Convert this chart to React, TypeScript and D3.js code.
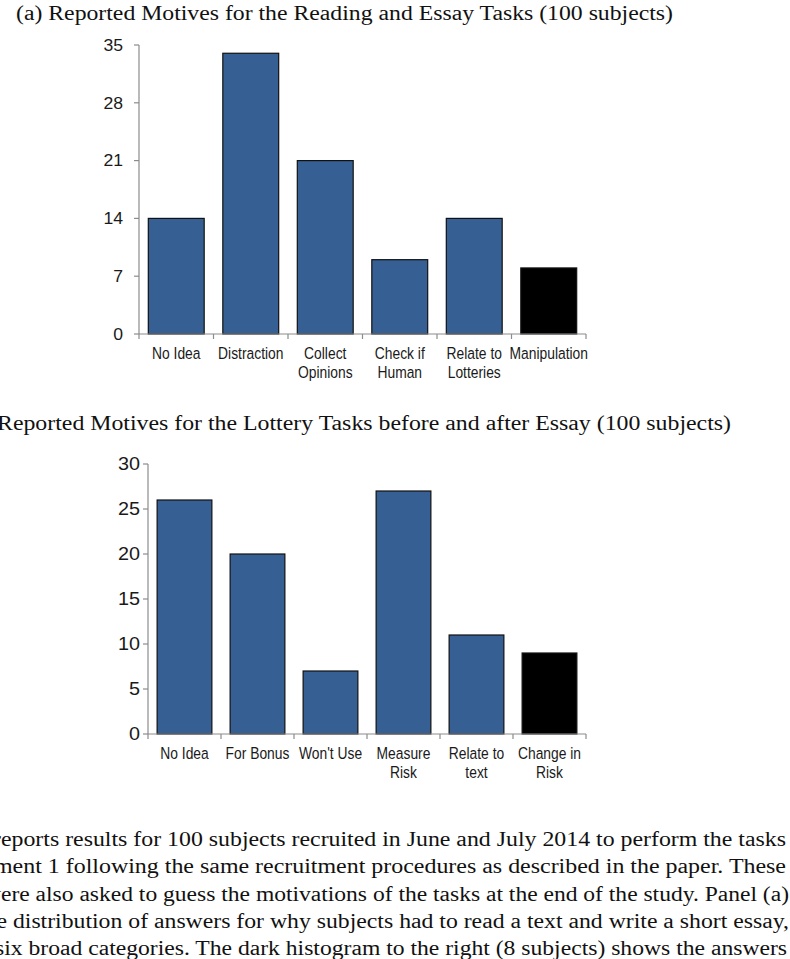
import React from "react";
import * as d3 from "d3";

const titleA = "(a) Reported Motives for the Reading and Essay Tasks (100 subjects)";
const titleB = "Reported Motives for the Lottery Tasks before and after Essay (100 subjects)";

const catsA = [["No Idea"], ["Distraction"], ["Collect", "Opinions"], ["Check if", "Human"], ["Relate to", "Lotteries"], ["Manipulation"]];
const valsA = [14, 34, 21, 9, 14, 8];
const ticksA = [0, 7, 14, 21, 28, 35];

const catsB = [["No Idea"], ["For Bonus"], ["Won't Use"], ["Measure", "Risk"], ["Relate to", "text"], ["Change in", "Risk"]];
const valsB = [26, 20, 7, 27, 11, 9];
const ticksB = [0, 5, 10, 15, 20, 25, 30];

const paragraph = [
  "reports results for 100 subjects recruited in June and July 2014 to perform the tasks",
  "ment 1 following the same recruitment procedures as described in the paper. These",
  "were also asked to guess the motivations of the tasks at the end of the study. Panel (a)",
  "the distribution of answers for why subjects had to read a text and write a short essay,",
  "six broad categories. The dark histogram to the right (8 subjects) shows the answers",
];

const BLUE = "#365f93";
const AXIS = "#8c8c8c";

type ChartProps = {
  cats: string[][];
  vals: number[];
  ticks: number[];
  x0: number;
  x1: number;
  yTop: number;
  yBottom: number;
  tickGap: number;
  tickFont: number;
  tickScale: number;
  catBase: number;
};

function BarChart(p: ChartProps) {
  const keys = p.cats.map((c) => c.join(" "));
  const x = d3.scaleBand<string>().domain(keys).range([p.x0, p.x1]).paddingInner(0.25).paddingOuter(0.125);
  const y = d3.scaleLinear().domain([0, p.ticks[p.ticks.length - 1]]).range([p.yBottom, p.yTop]);
  const step = x.step();
  const sans = "'Liberation Sans', Arial, sans-serif";
  return (
    <g>
      {p.vals.map((v, i) => (
        <rect
          key={keys[i]}
          x={x(keys[i])!}
          y={y(v)}
          width={x.bandwidth()}
          height={y(0) - y(v)}
          fill={i === p.vals.length - 1 ? "#000" : BLUE}
          stroke="#111"
          strokeWidth={1.2}
        />
      ))}
      <line x1={p.x0} x2={p.x0} y1={y(p.ticks[p.ticks.length - 1])} y2={y(0)} stroke={AXIS} strokeWidth={1.2} />
      <line x1={p.x0} x2={p.x1} y1={y(0)} y2={y(0)} stroke={AXIS} strokeWidth={1.2} />
      {p.ticks.map((t) => (
        <g key={t}>
          <line x1={p.x0 - 5} x2={p.x0} y1={y(t)} y2={y(t)} stroke={AXIS} strokeWidth={1.2} />
          <text
            transform={`translate(${p.x0 - p.tickGap},${y(t) + p.tickFont * 0.36}) scale(${p.tickScale},1)`}
            textAnchor="end"
            fontFamily={sans}
            fontSize={p.tickFont}
            fill="#1a1a1a"
          >
            {t}
          </text>
        </g>
      ))}
      {d3.range(keys.length + 1).map((i) => (
        <line key={i} x1={p.x0 + i * step} x2={p.x0 + i * step} y1={y(0)} y2={y(0) + 5} stroke={AXIS} strokeWidth={1.2} />
      ))}
      {p.cats.map((lines, i) =>
        lines.map((ln, j) => (
          <text
            key={keys[i] + j}
            transform={`translate(${x(keys[i])! + x.bandwidth() / 2},${p.catBase + j * 19}) scale(0.84,1)`}
            textAnchor="middle"
            fontFamily={sans}
            fontSize={16.5}
            fill="#1a1a1a"
          >
            {ln}
          </text>
        ))
      )}
    </g>
  );
}

export default function App() {
  const serif = "'Liberation Serif', 'Times New Roman', serif";
  const paraStarts = [-7, -6, -16, -22, -5];
  const paraEnds = [786, 786, 789, 789, 787];
  return (
    <svg
      width={790}
      height={959}
      viewBox="0 0 790 959"
      style={{ position: "absolute", left: 0, top: 0, background: "#fff" }}
    >
      <rect width={790} height={959} fill="#fff" />
      <text x={16} y={20} fontFamily={serif} fontSize={20} textLength={657} lengthAdjust="spacingAndGlyphs" fill="#111">
        {titleA}
      </text>
      <BarChart
        cats={catsA}
        vals={valsA}
        ticks={ticksA}
        x0={139}
        x1={586}
        yTop={45}
        yBottom={334}
        tickGap={16}
        tickFont={16}
        tickScale={1.1}
        catBase={359}
      />
      <text x={-3} y={430} fontFamily={serif} fontSize={20} textLength={734} lengthAdjust="spacingAndGlyphs" fill="#111">
        {titleB}
      </text>
      <BarChart
        cats={catsB}
        vals={valsB}
        ticks={ticksB}
        x0={148}
        x1={586}
        yTop={464}
        yBottom={734}
        tickGap={8}
        tickFont={18}
        tickScale={1.1}
        catBase={759}
      />
      {paragraph.map((ln, i) => (
        <text
          key={i}
          x={paraStarts[i]}
          y={846 + i * 27.3}
          fontFamily={serif}
          fontSize={20.5}
          textLength={paraEnds[i] - paraStarts[i]}
          lengthAdjust="spacingAndGlyphs"
          fill="#111"
        >
          {ln}
        </text>
      ))}
    </svg>
  );
}
